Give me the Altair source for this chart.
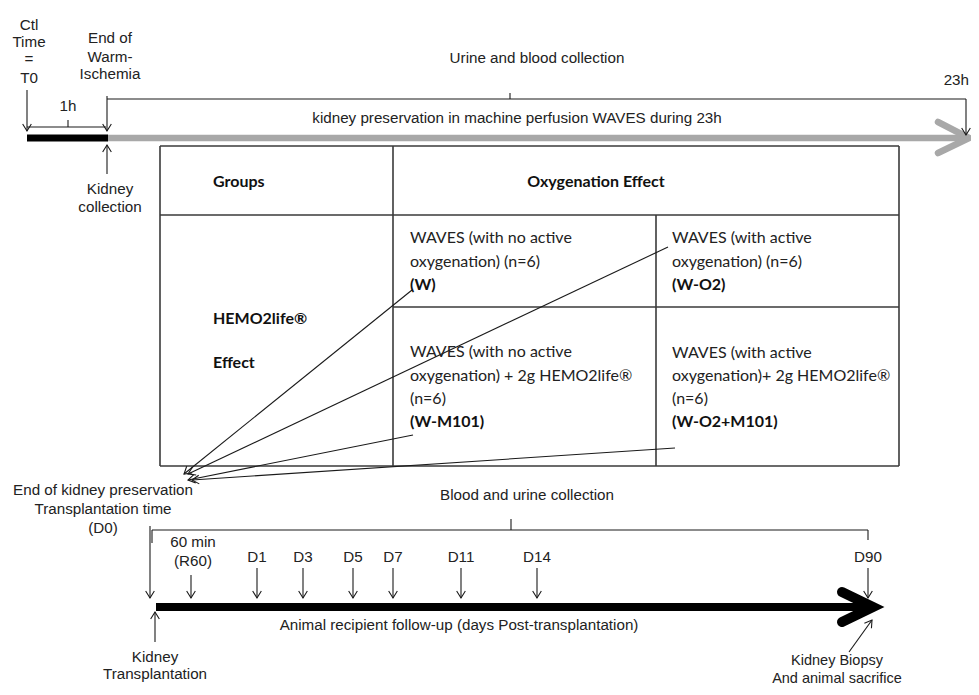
import altair as alt
import pandas as pd
import numpy as np

# ---------------- canvas (diagram coordinates = page pixels) ----------------
W, H = 963, 679
X0, Y0 = 8, 8
xs = alt.Scale(domain=[X0, X0 + W], nice=False, zero=False)
ys = alt.Scale(domain=[Y0, Y0 + H], nice=False, zero=False, reverse=True)

# ---------------- text labels ----------------
diag_labels = ["Ctl", "Time", "=", "T0", "End of", "Warm-", "Ischemia", "1h",
               "Urine and blood collection",
               "kidney preservation in machine perfusion WAVES during 23h",
               "Kidney", "collection",
               "End of kidney preservation", "Transplantation time", "(D0)",
               "Blood and urine collection", "60 min", "(R60)",
               "D1", "D3", "D5", "D7", "D11", "D14", "D90",
               "Animal recipient follow-up (days Post-transplantation)",
               "Kidney", "Transplantation"]
diag_x = [29, 29, 29, 29, 110, 110, 110, 68, 537, 517, 110, 110,
          103, 103, 103, 527, 193, 193,
          257, 303, 353, 393, 461, 537, 868,
          459, 155, 155]
diag_y = [25, 42, 59, 78, 38, 57, 74, 106, 58, 118, 189, 207,
          490, 509, 528, 495, 542, 561,
          557, 557, 557, 557, 557, 557, 557,
          625, 657, 674]

# labels that sit on the right / bottom edge of the page
edge_right_label = ["23h"]
edge_right_x = [969]
edge_right_y = [80]

edge_bottom_label = ["Kidney Biopsy", "And animal sacrifice"]
edge_bottom_x = [837, 837]
edge_bottom_y = [665, 683]

cell_labels = ["WAVES (with no active", "oxygenation) (n=6)",
               "WAVES (with active", "oxygenation) (n=6)",
               "WAVES (with no active", "oxygenation) + 2g HEMO2life®", "(n=6)",
               "WAVES (with active", "oxygenation)+ 2g HEMO2life®", "(n=6)"]
cell_x = [410, 410, 672, 672, 410, 410, 410, 672, 672, 672]
cell_y = [238, 262, 238, 262, 352, 376, 399, 353, 376, 399]

bold_labels = ["Groups", "HEMO2life®", "Effect", "(W)", "(W-O2)", "(W-M101)", "(W-O2+M101)"]
bold_x = [213, 213, 213, 410, 672, 410, 672]
bold_y = [182, 319, 363, 285, 285, 422, 422]

header_label = ["Oxygenation Effect"]
header_x = [596]
header_y = [182]

# ---------------- thin connector lines ----------------
seg_x1 = [27, 27, 68, 107, 107, 510, 966, 107,
          412, 668, 413, 675,
          152, 511, 152, 868, 150, 191,
          257, 303, 353, 393, 461, 537, 868,
          155, 849]
seg_y1 = [90, 127, 120, 96, 99, 93, 99, 174,
          290, 247, 435, 448,
          530, 519, 530, 530, 526, 575,
          568, 568, 568, 568, 568, 568, 568,
          642, 652]
seg_x2 = [27, 106, 68, 107, 966, 510, 966, 107,
          184, 188, 188, 192,
          868, 511, 152, 868, 150, 191,
          257, 303, 353, 393, 461, 537, 868,
          155, 872]
seg_y2 = [131, 127, 127, 131, 99, 99, 135, 145,
          474, 474, 480, 480,
          530, 530, 543, 540, 598, 598,
          598, 598, 598, 598, 598, 598, 598,
          612, 620]
# which segments end in an arrowhead
seg_head = [1, 0, 0, 1, 0, 0, 1, 1,
            1, 1, 1, 1,
            0, 0, 0, 0, 1, 1,
            1, 1, 1, 1, 1, 1, 1,
            1, 1]

# ---------------- table grid ----------------
tab_x1 = [160, 160, 899, 160, 393, 160, 393, 656]
tab_y1 = [146, 466, 146, 146, 146, 215, 307, 215]
tab_x2 = [899, 899, 899, 160, 393, 899, 899, 656]
tab_y2 = [146, 466, 466, 466, 466, 215, 307, 466]

# ---------------- thick arrows ----------------
gray_id = ["bar", "bar", "head", "head", "head"]
gray_x = [108, 962, 938, 969, 938]
gray_y = [138, 138, 122, 138, 153]

black_id = ["bar", "bar", "head", "head", "head"]
black_x = [156, 866, 842, 873, 842]
black_y = [607, 607, 592, 607, 622]

ctl_x = [27, 108]
ctl_y = [138, 138]

# ---------------- build tables ----------------
def tdf(labels, x, y):
    return pd.DataFrame({"label": labels, "x": x, "y": y})

segs = pd.DataFrame({"x": seg_x1, "y": seg_y1, "x2": seg_x2, "y2": seg_y2, "head": seg_head})
heads = segs[segs["head"] == 1].copy()
heads["angle"] = (np.degrees(np.arctan2(heads["y2"] - heads["y"], heads["x2"] - heads["x"])) + 360) % 360
heads = heads[["x2", "y2", "angle"]].rename(columns={"x2": "hx", "y2": "hy"})

tab = pd.DataFrame({"x": tab_x1, "y": tab_y1, "x2": tab_x2, "y2": tab_y2})

gray = pd.DataFrame({"id": gray_id, "x": gray_x, "y": gray_y, "o": range(len(gray_x))})
black = pd.DataFrame({"id": black_id, "x": black_x, "y": black_y, "o": range(len(black_x))})
ctl = pd.DataFrame({"x": ctl_x, "y": ctl_y, "o": range(len(ctl_x))})


def X(f="x"):
    return alt.X(f, type="quantitative", scale=xs, axis=None)


def Y(f="y"):
    return alt.Y(f, type="quantitative", scale=ys, axis=None)


ink = "#1a1a1a"
ARIAL = 15.2
CAL = 16

table_layer = alt.Chart(tab).mark_rule(color="#3a3a3a", strokeWidth=1.6).encode(
    x=X(), y=Y(), x2="x2", y2="y2")

seg_layer = alt.Chart(segs).mark_rule(color=ink, strokeWidth=1.1).encode(
    x=X(), y=Y(), x2="x2", y2="y2")

head_layer = alt.Chart(heads).mark_point(
    shape="M-1,-0.62L0,0L-1,0.62", filled=False, color=ink, strokeWidth=1.1,
    size=196, opacity=1).encode(
    x=X("hx"), y=Y("hy"), angle=alt.Angle("angle", type="quantitative", scale=None))

gray_layer = alt.Chart(gray).mark_line(
    color="#a8a8a8", strokeWidth=6.5, strokeCap="round", strokeJoin="miter").encode(
    x=X(), y=Y(), detail="id", order="o")

ctl_layer = alt.Chart(ctl).mark_line(color="#000000", strokeWidth=7, strokeCap="butt").encode(
    x=X(), y=Y(), order="o")

black_bar = alt.Chart(black[black["id"] == "bar"]).mark_line(
    color="#000000", strokeWidth=8, strokeCap="butt").encode(x=X(), y=Y(), order="o")
black_head = alt.Chart(black[black["id"] == "head"]).mark_line(
    color="#000000", strokeWidth=10, strokeCap="round", strokeJoin="miter").encode(
    x=X(), y=Y(), order="o")

diag_text = alt.Chart(tdf(diag_labels, diag_x, diag_y)).mark_text(
    font="Liberation Sans", fontSize=ARIAL, color="#222222", align="center", baseline="middle").encode(
    x=X(), y=Y(), text="label")

right_text = alt.Chart(tdf(edge_right_label, edge_right_x, edge_right_y)).mark_text(
    font="Liberation Sans", fontSize=ARIAL, color="#222222", align="right", baseline="middle").encode(
    x=X(), y=Y(), text="label")

bottom_text = alt.Chart(tdf(edge_bottom_label, edge_bottom_x, edge_bottom_y)).mark_text(
    font="Liberation Sans", fontSize=14.5, color="#222222", align="center", baseline="alphabetic").encode(
    x=X(), y=Y(), text="label")

cell_text = alt.Chart(tdf(cell_labels, cell_x, cell_y)).mark_text(
    font="Lato", fontSize=CAL, color="#222222", align="left", baseline="middle").encode(
    x=X(), y=Y(), text="label")

bold_text = alt.Chart(tdf(bold_labels, bold_x, bold_y)).mark_text(
    font="Lato", fontSize=CAL, fontWeight="bold", color="#111111", align="left", baseline="middle").encode(
    x=X(), y=Y(), text="label")

header_text = alt.Chart(tdf(header_label, header_x, header_y)).mark_text(
    font="Lato", fontSize=CAL, fontWeight="bold", color="#111111", align="center", baseline="middle").encode(
    x=X(), y=Y(), text="label")

chart = alt.layer(
    gray_layer, ctl_layer, black_bar, black_head,
    table_layer, seg_layer, head_layer,
    diag_text, right_text, bottom_text, cell_text, bold_text, header_text
).properties(
    width=W, height=H, padding=0, autosize=alt.AutoSizeParams(type="none"),
    background="white"
).configure_view(stroke=None)

chart.save("out.html", embed_options={"renderer": "svg", "actions": False})
